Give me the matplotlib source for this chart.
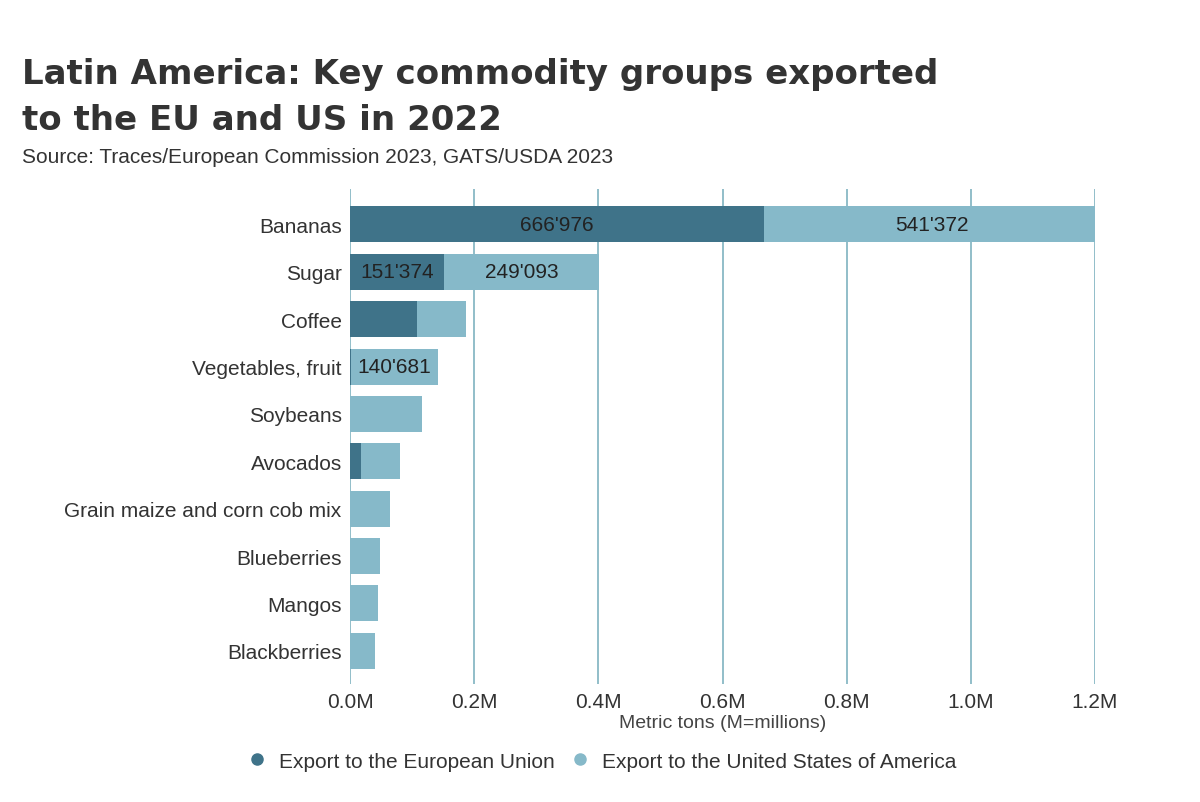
import matplotlib.pyplot as plt
from matplotlib.lines import Line2D

categories = ["Bananas", "Sugar", "Coffee", "Vegetables, fruit", "Soybeans", "Avocados",
              "Grain maize and corn cob mix", "Blueberries", "Mangos", "Blackberries"]
eu = [666976, 151374, 108000, 1500, 0, 18000, 0, 0, 0, 0]
us = [541372, 249093, 79000, 140681, 116000, 62000, 64000, 48000, 45000, 40000]
ticks = [0, 200000, 400000, 600000, 800000, 1000000, 1200000]
tick_labels = ["0.0M", "0.2M", "0.4M", "0.6M", "0.8M", "1.0M", "1.2M"]

c_eu = "#3f7389"
c_us = "#86b9c9"
grid_c = "#7fb3c0"
plt.rcParams['font.family'] = ['Liberation Sans', 'DejaVu Sans']

def fmt(v):
    return f"{v:,}".replace(",", "'")

fig = plt.figure(figsize=(12, 8.03), dpi=100)
ax = fig.add_axes([0.2917, 0.147, 0.6208, 0.616])
y = list(range(len(categories)))
ax.barh(y, eu, height=0.76, color=c_eu, zorder=2)
ax.barh(y, us, left=eu, height=0.76, color=c_us, zorder=2)
for i in y:
    if eu[i] > 130000:
        ax.text(eu[i] / 2, i, fmt(eu[i]), ha="center", va="center", fontsize=15, color="#222222", zorder=3)
    if us[i] > 130000:
        ax.text(eu[i] + us[i] / 2, i, fmt(us[i]), ha="center", va="center", fontsize=15, color="#222222", zorder=3)

ax.set_ylim(len(categories) - 0.3, -0.74)
ax.set_xlim(0, 1200000)
ax.set_xticks(ticks)
ax.set_xticklabels(tick_labels, fontsize=15, color="#333333")
ax.set_yticks(y)
ax.set_yticklabels(categories, fontsize=15, color="#333333")
ax.tick_params(length=0, pad=6)
for t in ticks:
    ax.axvline(t, color=grid_c, lw=1.2, zorder=1)
for s in ax.spines.values():
    s.set_visible(False)
ax.set_xlabel("Metric tons (M=millions)", fontsize=14, color="#444444", labelpad=2)

fig.text(0.018, 0.895, "Latin America: Key commodity groups exported", fontsize=24.5, fontweight="bold",
         color="#333333", family="DejaVu Sans")
fig.text(0.018, 0.838, "to the EU and US in 2022", fontsize=24.5, fontweight="bold",
         color="#333333", family="DejaVu Sans")
fig.text(0.018, 0.797, "Source: Traces/European Commission 2023, GATS/USDA 2023", fontsize=15, color="#333333")

handles = [Line2D([], [], marker="o", ls="", color=c_eu, markersize=8),
           Line2D([], [], marker="o", ls="", color=c_us, markersize=8)]
fig.legend(handles, ["Export to the European Union", "Export to the United States of America"],
           loc="center", bbox_to_anchor=(0.497, 0.051), ncol=2, frameon=False, fontsize=15,
           handletextpad=0.05, columnspacing=0.2, labelcolor="#333333")

fig.savefig("out.png")
